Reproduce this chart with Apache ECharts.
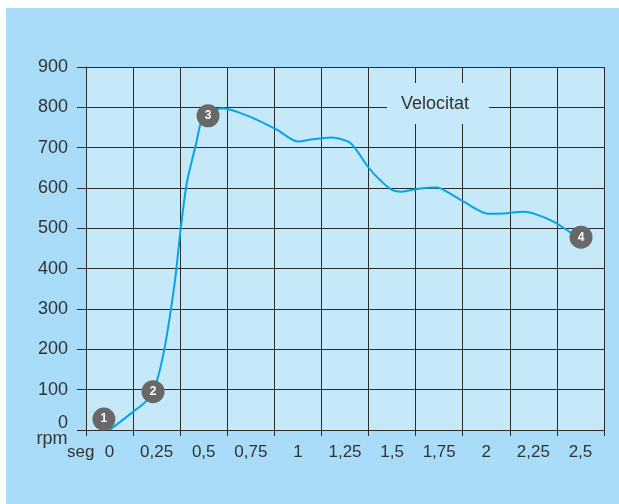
<!DOCTYPE html>
<html>
<head>
<meta charset="utf-8">
<script src="https://cdn.jsdelivr.net/npm/echarts@6/dist/echarts.min.js"></script>
<style>
html,body{margin:0;padding:0;background:#ffffff;}
#chart{position:absolute;left:6px;top:8px;width:613px;height:496px;}
</style>
</head>
<body>
<div id="chart"></div>
<script>
// Category tick labels (seconds)
var xLabels = ['0','0,25','0,5','0,75','1','1,25','1,5','1,75','2','2,25','2,5'];
// Y axis range
var yMin = 0, yMax = 900, yStep = 100;
// Velocity curve: time (s) and speed (rpm)
var timeSec = [0, 0.125, 0.2, 0.25, 0.29, 0.32, 0.35, 0.375, 0.41, 0.46, 0.49, 0.54, 0.6, 0.76, 0.89, 1.0, 1.08, 1.18, 1.28, 1.365, 1.41, 1.49, 1.55, 1.65, 1.74, 1.79, 1.88, 2.01, 2.09, 2.2, 2.25, 2.36, 2.44, 2.48];
var rpm = [0, 45, 74, 120, 198, 281, 380, 488, 612, 711, 769, 790, 798, 774, 744, 715, 721, 725, 711, 657, 632, 598, 591, 599, 601, 591, 566, 536, 537, 541, 537, 516, 492, 480];
// Numbered markers
var markerIds = ['1','2','3','4'];
var markerTime = [-0.03, 0.231, 0.523, 2.503];
var markerRpm = [27, 95, 779, 478];

var lineData = timeSec.map(function(t, i){ return [t, rpm[i]]; });
var markerData = markerIds.map(function(id, i){ return {value:[markerTime[i], markerRpm[i]], name:id}; });

var txt = '#333333';
var gridCol = '#2b2b2b';
var font = '"Liberation Sans", Arial, sans-serif';

var chart = echarts.init(document.getElementById('chart'), null, {renderer:'canvas'});
chart.setOption({
  backgroundColor: '#a8dcf8',
  animation: false,
  textStyle: {fontFamily: font},
  grid: {left: 80, top: 59, right: 15, bottom: 74, show: true, backgroundColor: '#c6e9f9', borderWidth: 0},
  xAxis: [{
    type: 'category',
    data: xLabels,
    boundaryGap: true,
    axisLine: {show: true, onZero: false, lineStyle: {color: gridCol, width: 1}},
    axisTick: {show: true, length: 6, interval: 0, lineStyle: {color: gridCol}},
    axisLabel: {interval: 0, margin: 14, fontSize: 17, color: txt, fontFamily: font},
    splitLine: {show: true, interval: 0, lineStyle: {color: gridCol, width: 1}}
  }, {
    type: 'value',
    min: -0.125,
    max: 2.625,
    show: false,
    axisLine: {onZero: false},
    splitLine: {show: false}
  }],
  yAxis: {
    type: 'value',
    min: yMin, max: yMax, interval: yStep,
    axisLine: {show: true, onZero: false, lineStyle: {color: gridCol, width: 1}},
    axisTick: {show: true, length: 9, lineStyle: {color: gridCol}},
    axisLabel: {
      margin: 18, fontSize: 18, color: txt, fontFamily: font,
      formatter: function(v){ return v === 0 ? '{z|0}' : String(v); },
      rich: {z: {fontSize: 18, color: txt, fontFamily: font, padding: [0, 0, 14, 0]}}
    },
    splitLine: {show: true, lineStyle: {color: gridCol, width: 1}}
  },
  series: [{
    type: 'line',
    xAxisIndex: 1,
    data: lineData,
    smooth: 0.25,
    showSymbol: false,
    lineStyle: {color: '#06a4e6', width: 2},
    z: 3
  }, {
    type: 'scatter',
    xAxisIndex: 1,
    data: markerData,
    symbol: 'circle',
    symbolSize: 23,
    itemStyle: {color: '#686868', opacity: 1},
    label: {show: true, position: 'inside', formatter: '{b}', color: '#ffffff', fontWeight: 'bold', fontSize: 12, fontFamily: font},
    z: 5
  }],
  graphic: [
    {type: 'rect', z: 100, shape: {x: 381, y: 75, width: 102, height: 41}, style: {fill: '#c6e9f9'}},
    {type: 'text', z: 101, x: 429, y: 96, style: {text: 'Velocitat', fill: txt, font: '18px ' + font, textAlign: 'center', textVerticalAlign: 'middle'}},
    {type: 'text', z: 101, x: 46, y: 431, style: {text: 'rpm', fill: txt, font: '18px ' + font, textAlign: 'center', textVerticalAlign: 'middle'}},
    {type: 'text', z: 101, x: 61, y: 444, style: {text: 'seg', fill: txt, font: '17px ' + font, textAlign: 'left', textVerticalAlign: 'middle'}}
  ]
});
</script>
</body>
</html>
